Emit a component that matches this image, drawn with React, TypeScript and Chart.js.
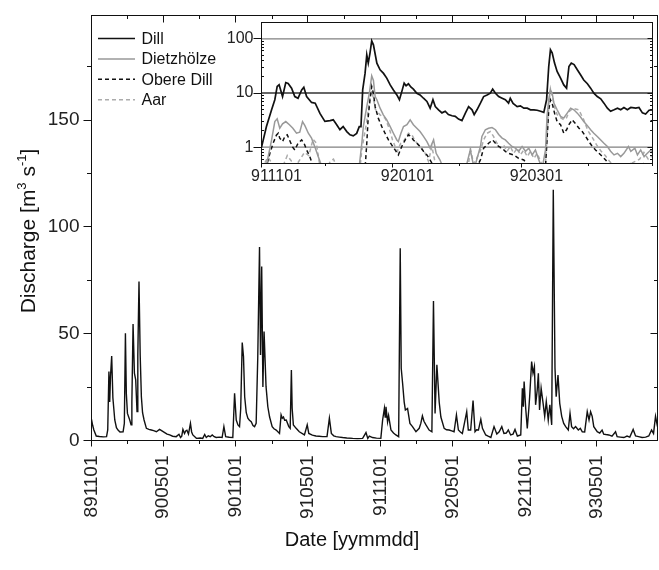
import React, { useEffect, useRef } from 'react';
import { Chart, registerables } from 'chart.js';

Chart.register(...registerables);

const FONT = '"Liberation Sans", Arimo, Arial, Helvetica, sans-serif';

// ---------- main panel: Dill discharge; x = days since 1989-11-01, y = m3/s
const mainDays = [
  0, 3, 6, 12, 20, 30, 38, 41, 44, 46,
  48, 51, 54, 58.8, 63, 67, 72, 79.8, 83, 85.7,
  88, 90.8, 96.6, 100, 102, 105, 108.4, 111.7, 115, 117,
  120, 123, 126, 129, 132.8, 138.7, 145, 151, 157, 164,
  172, 178, 185, 191, 197.5, 205, 214, 221, 225, 228,
  231, 235, 238, 241, 245, 247, 250, 253, 256, 265,
  275, 281, 286, 290, 295, 300, 305, 310, 315, 323,
  330, 334.5, 339, 348, 357, 361.5, 365.7, 370, 374, 377,
  380.8, 384, 387, 391, 395, 399, 403.5, 408, 412, 416,
  420, 424.5, 427, 430, 433, 436, 441, 445.5, 450, 456.5,
  461, 466.6, 475, 479, 482, 485, 488, 492, 498.5, 502,
  505, 507, 510, 517, 525, 538, 545, 549, 558, 567,
  575, 584, 595, 601, 606, 612, 618, 626, 634.5, 645,
  660, 672, 685, 693.5, 698, 702, 710, 720, 731, 735.5,
  740, 742, 744, 748, 750.6, 756.6, 763, 769, 776, 780,
  782.5, 786, 790, 793, 798.5, 804.5, 811, 819.7, 828, 832,
  836, 840, 845, 853, 860, 864, 868, 872.6, 878.5, 882.7,
  891, 897, 903.7, 910, 916, 922, 927, 932, 937, 943,
  948, 952, 958, 964, 969, 973, 977.6, 983.6, 987.7, 996,
  1002, 1009, 1017, 1024, 1030, 1036.6, 1042, 1048, 1053, 1059,
  1065, 1070, 1076, 1084.5, 1088.6, 1091, 1093, 1097, 1101, 1105,
  1107, 1112, 1115.5, 1119, 1122, 1126, 1129, 1132, 1136, 1141,
  1145, 1149, 1154, 1158, 1162.7, 1166.7, 1171, 1174, 1178.6, 1183,
  1188, 1193, 1198, 1204.6, 1209, 1213, 1218, 1223, 1230, 1235,
  1240, 1246, 1252.5, 1257, 1261, 1265, 1269, 1277.7, 1284, 1290,
  1294, 1300, 1307, 1315, 1324, 1328, 1336, 1345, 1353, 1360,
  1368.5, 1374.6, 1382, 1391, 1400, 1408, 1415, 1420, 1425, 1430,
];
const mainQ = [
  9.9, 7, 4.9, 2.1, 1.9, 1.7, 1.8, 5, 32.3, 18,
  30, 39.6, 20, 9.6, 6, 4.9, 4.0, 4.1, 8, 50.2,
  22, 12.7, 9.6, 7.3, 18, 54.5, 31.5, 28.4, 13.5, 40,
  74.5, 40, 20.5, 13, 9.6, 5.7, 5.2, 4.9, 4.6, 4.1,
  5.2, 4.5, 3.7, 3.0, 2.6, 2.0, 1.8, 2.9, 1.4, 2.0,
  5.2, 3.3, 4.5, 4.8, 3.0, 5, 8.0, 4, 2.6, 1.0,
  1.2, 1.0, 2.8, 1.4, 2.2, 1.8, 2.6, 1.8, 1.4, 1.6,
  1.4, 6.5, 1.8, 1.5, 1.4, 22.1, 9.6, 7.3, 6.5, 15,
  45.9, 39.3, 20.5, 13, 10.4, 9.5, 8.8, 7.0, 6.5, 8.0,
  38.5, 90.6, 40, 81.5, 25, 51, 25.2, 15.8, 11, 6.5,
  5.5, 4.9, 3.3, 12, 10.4, 11, 9.5, 9.6, 6.5, 5.7,
  33, 15, 7.3, 5.7, 4.1, 2.6, 7.3, 3.3, 2.5, 2.1,
  2.0, 1.8, 1.8, 10.4, 3.3, 2.2, 1.8, 1.6, 1.4, 1.2,
  1.0, 0.9, 1.0, 3.7, 1.0, 2.1, 1.4, 1.1, 1.0, 9.6,
  15.1, 11, 15.8, 8.8, 11.7, 4.9, 3.5, 2.6, 1.8, 90,
  33.8, 26.8, 18, 14.3, 15, 8.0, 6.5, 4.1, 5.7, 8,
  11.5, 9, 7.3, 4.9, 4.1, 65.3, 12.7, 35.4, 17.9, 11,
  5.7, 5, 4.9, 4.5, 4.1, 12, 4.9, 4, 3.3, 8.8,
  13.5, 4.9, 4.9, 18.7, 4.1, 5, 4.9, 9.9, 5.7, 2.6,
  2, 1.4, 6.5, 3.0, 4.1, 6.5, 3.3, 3.5, 4.9, 2.6,
  3, 5.2, 2.1, 2.6, 24.5, 15.8, 27.6, 15.1, 5.7, 15.1,
  20.5, 37, 31.5, 34.6, 16.7, 23.4, 31.5, 14.3, 24.5, 17.4,
  11.3, 18.2, 9.6, 16.7, 7.3, 117.4, 33.8, 20.5, 30.7, 17.4,
  11.3, 8, 6.5, 4.9, 12.7, 6.5, 5.5, 6.5, 4.9, 5.7,
  4.1, 4, 13.5, 9.6, 13.5, 11.3, 6.5, 4.1, 3.5, 4.9,
  3.0, 2.8, 2.6, 2.0, 4.1, 1.8, 1.6, 1.4, 2.1, 1.6,
  5.2, 2.1, 1.8, 1.4, 1.6, 2.1, 4.9, 3.3, 11.3, 6.5,
];
const mainTickDates = ['891101', '900201', '900501', '900801', '901101', '910201', '910501', '910801',
  '911101', '920201', '920501', '920801', '921101', '930201', '930501', '930801'];
const mainLabelDates = ['891101', '900501', '901101', '910501', '911101', '920501', '921101', '930501'];
const mainYTicks = [0, 50, 100, 150];
const mainYMinorTicks = [25, 75, 125, 175];

// ---------- inset (log scale); x = days since 1991-11-01, y = m3/s
const dillDays = [
  0, 2.3, 4.7, 6.2, 7.3, 8.2, 9.8, 11.3, 12.4, 14,
  15.5, 17, 18.7, 19.7, 21, 23.3, 25, 27.2, 29.5, 31.9,
  33.4, 35, 36.5, 38, 39.7, 41.2, 42.7, 44.3, 45.5, 46.3,
  47.1, 48.2, 49, 49.7, 50.5, 51.3, 52.1, 53.7, 55.2, 56.8,
  58.3, 59.9, 61.4, 63, 64.2, 65.3, 66.4, 67.3, 68.4, 69.5,
  70.7, 72.3, 73.8, 75.4, 77, 78.5, 79.8, 80.9, 82.4, 84,
  85.5, 87, 88.7, 90.2, 91.7, 93.3, 94.9, 96.4, 98, 99,
  100.3, 101.9, 103.4, 105, 106.5, 107.6, 108.9, 110.4, 112, 113.5,
  115, 115.8, 117.1, 119, 120.5, 122.1, 123.7, 125.2, 126.8, 128.3,
  129.9, 131.4, 132.7, 133.7, 134.5, 135.3, 136.4, 137.6, 139.2, 140.7,
  142, 143.1, 144.2, 145.5, 147, 148.5, 150, 151.7, 153.2, 154.7,
  156.3, 157.9, 159.4, 161, 162.5, 164.1, 165.7, 167.2, 168.7, 170.3,
  171.9, 174.2, 175.7, 177.3, 178.8, 180.4, 182,
];
const dillQ = [
  1.0, 2.4, 4.9, 7.5, 13.2, 14.2, 8.6, 15.6, 15, 12.3,
  8.6, 8.0, 11.4, 12.8, 8.6, 6.7, 6.5, 4.2, 3.0, 3.1,
  3.2, 2.6, 2.1, 2.4, 1.94, 1.69, 1.62, 1.8, 2.4, 2.4,
  11.4, 23, 50.7, 35.6, 54.5, 91.8, 77.5, 35.6, 26.8, 23,
  18.8, 14.1, 11.4, 9.2, 7.5, 10.6, 15.2, 13.6, 14.8, 12.9,
  11.8, 9.9, 9.2, 8.0, 7.0, 5.25, 7.5, 5.6, 4.9, 4.3,
  4.6, 4.0, 3.8, 3.7, 3.3, 3.1, 4.25, 5.6, 4.9, 4.0,
  4.9, 6.5, 8.6, 9.2, 9.9, 11.8, 9.9, 8.6, 8.0, 7.5,
  6.5, 8.0, 6.4, 5.6, 5.8, 5.25, 5.25, 4.9, 4.9, 4.8,
  4.6, 4.4, 7.5, 30.8, 62.6, 55, 35.6, 25, 18.8, 14.1,
  12.3, 30.8, 35.6, 33.5, 26.8, 21.7, 17.4, 14.8, 12.3, 9.9,
  8.6, 7.8, 6.5, 5.25, 4.6, 4.9, 5.25, 4.9, 5.4, 4.9,
  5.4, 5.25, 5.4, 4.3, 4.1, 4.8, 4.9,
];
const dietzDays = [
  0, 2, 2.8, 4.7, 6.2, 7.3, 8.5, 9.8, 11.3, 13,
  14.6, 16.3, 17.8, 19.1, 20.2, 21.8, 23.3, 24.9, 26.4, 28,
  30, 45, 46.7, 47.4, 49, 50.2, 51.3, 52.1, 52.9, 53.7,
  55.2, 56.7, 58.3, 59.9, 61.4, 63, 63.7, 64.9, 66.1, 67.7,
  69.2, 70.7, 72.3, 73.8, 75.4, 77, 78.5, 80.1, 81.3, 83.1,
  84.7, 95, 97.2, 99, 101.9, 102.6, 104.2, 105.7, 107.3, 108.9,
  110.4, 112, 113.5, 115, 116.6, 118.2, 119.7, 121.3, 122.9, 124.4,
  126, 127.5, 129.1, 130.6, 132.2, 132.9, 133.7, 134.5, 135.3, 136.1,
  137.6, 139.2, 140.7, 142.3, 143.9, 145.4, 147, 148.5, 150, 151.7,
  153.2, 154.7, 156.3, 157.9, 159.4, 161, 162.5, 164.1, 165.7, 167.2,
  168.7, 170.8, 171.9, 173.8, 175, 176.5, 178.1, 179.6, 181.2, 182,
];
const dietzQ = [
  0.3, 0.4, 0.58, 1.36, 2.97, 3.33, 2.24, 2.7, 2.97, 2.6,
  2.24, 1.81, 1.9, 2.97, 2.5, 1.81, 1.47, 1.0, 0.67, 0.45,
  0.3, 0.3, 1.18, 2.4, 5.6, 9.9, 20.7, 17, 8.6, 7.5,
  5.25, 3.95, 3.2, 2.4, 1.81, 1.36, 1.27, 1.81, 2.4, 2.6,
  3.2, 2.6, 2.24, 1.94, 1.58, 1.27, 0.96, 1.36, 0.77, 0.58,
  0.4, 0.4, 0.89, 0.4, 1.03, 1.58, 2.1, 2.24, 2.3, 2.1,
  1.72, 1.47, 1.36, 1.18, 1.03, 0.96, 0.84, 1.03, 0.84, 0.96,
  0.72, 0.89, 0.58, 0.4, 0.89, 3.7, 7.5, 11.4, 9.9, 6.5,
  4.9, 3.7, 3.45, 4.25, 5.25, 4.9, 4.25, 3.6, 2.97, 2.5,
  2.1, 1.81, 1.58, 1.36, 1.18, 1.03, 0.84, 0.72, 0.77, 0.67,
  0.77, 1.03, 0.84, 0.96, 0.72, 0.89, 0.67, 0.77, 0.89, 0.77,
];
const obereDays = [
  0, 2, 3.9, 5.4, 7, 7.8, 8.5, 9.8, 10.9, 12,
  13, 14.5, 15.5, 17, 18.7, 19.8, 21, 22.5, 24, 26,
  48, 49, 49.7, 50.5, 51.3, 52.1, 52.9, 54.4, 56, 57.5,
  59.1, 60.6, 62.2, 63.7, 65.3, 66.9, 68.4, 69.5, 70.7, 72.3,
  73.8, 75.4, 77, 78.5, 80, 82, 96, 98, 100, 102,
  103.4, 105.7, 107.6, 108.9, 110.4, 112, 113.5, 115, 117.4, 119.7,
  122.1, 123.7, 126, 131, 132.2, 132.9, 133.7, 134.5, 135.3, 136.4,
  137.6, 139.2, 140.7, 142, 143.1, 144.6, 146.2, 147.8, 149.3, 150.9,
  152.4, 154, 155.5, 157.1, 158.7, 160.2, 161.8, 165, 172, 175,
  178, 182,
];
const obereQ = [
  0.3, 0.4, 0.77, 1.18, 1.69, 1.81, 1.47, 1.27, 1.58, 1.69,
  1.36, 1.0, 0.89, 1.18, 1.36, 1.18, 0.89, 0.67, 0.45, 0.3,
  0.3, 1.18, 3.7, 7.5, 13.2, 9.9, 5.6, 3.4, 2.4, 1.81,
  1.36, 1.1, 0.89, 0.72, 1.03, 1.36, 1.69, 1.58, 1.36, 1.18,
  1.03, 0.84, 0.72, 0.58, 0.45, 0.3, 0.3, 0.45, 0.4, 0.6,
  0.96, 1.18, 1.36, 1.18, 1.03, 0.96, 0.84, 0.77, 0.72, 0.62,
  0.58, 0.48, 0.35, 0.35, 0.45, 1.36, 4.9, 7.5, 6.5, 4.25,
  2.97, 2.6, 1.81, 2.1, 2.6, 3.2, 2.7, 2.24, 1.94, 1.58,
  1.27, 1.03, 0.89, 0.77, 0.67, 0.58, 0.48, 0.4, 0.5, 0.45,
  0.5, 0.45,
];
const aarDays = [
  0, 3, 5, 7, 10, 12, 14, 16, 18, 20,
  22, 24, 25.5, 27, 29, 32, 33.5, 35, 37, 45.5,
  46.7, 49, 50.5, 51.3, 52.1, 53, 55.2, 57.5, 59.5, 61,
  62.2, 63.2, 64.8, 66.5, 68.4, 70, 71.5, 73.8, 76.2, 77.7,
  79.3, 80.5, 82, 96, 97.2, 98.7, 100, 102, 103.4, 105,
  106.5, 108, 109.6, 111.2, 112.7, 114.3, 115.8, 117.4, 119, 120.5,
  122.1, 123.7, 125.2, 126.8, 128.3, 129.9, 131.4, 132.2, 133.7, 134.5,
  135.3, 136.4, 137.6, 139.2, 140.7, 142, 143.1, 145, 147.7, 150,
  152, 154, 156, 158, 160, 162, 164, 168, 172, 176,
  178, 180, 182,
];
const aarQ = [
  0.4, 0.65, 0.5, 0.4, 0.45, 0.7, 0.55, 0.45, 0.6, 0.8,
  0.7, 1.4, 1.2, 0.5, 0.3, 0.55, 0.6, 0.45, 0.3, 0.3,
  0.9, 3, 8.5, 11, 8, 5, 3.95, 3.45, 2.2, 1.36,
  1.03, 0.84, 1.18, 1.36, 1.81, 1.7, 1.3, 1.03, 0.77, 0.55,
  1.03, 0.6, 0.35, 0.35, 0.96, 0.5, 0.6, 0.89, 1.36, 1.81,
  1.94, 1.58, 1.18, 0.96, 1.1, 0.84, 1.03, 0.77, 0.96, 0.72,
  0.89, 0.67, 0.84, 0.62, 0.77, 0.55, 0.4, 0.5, 6, 12,
  9, 5.5, 4, 3.5, 3.2, 3.5, 4.5, 5.2, 4.9, 3.2,
  2.0, 1.5, 1.1, 0.85, 0.7, 0.55, 0.45, 0.4, 0.5, 0.6,
  0.8, 0.6, 0.7,
];
const insetTickDates = ['911101', '911201', '920101', '920201', '920301', '920401', '920501'];
const insetLabelDates = ['911101', '920101', '920301'];
const insetYTicks = [1, 10, 100];
const insetYMinorTicks = [0.6, 0.7, 0.8, 0.9, 2, 3, 4, 5, 6, 7, 8, 9, 20, 30, 40, 50, 60, 70, 80, 90, 200];

const legendLabels = ['Dill', 'Dietzhölze', 'Obere Dill', 'Aar'];
const seriesColors = ['#111111', '#999999', '#111111', '#ababab'];
const seriesDash: number[][] = [[], [], [4, 3], [4, 3]];

const MAIN_BASE = Date.UTC(1989, 10, 1);
const INSET_BASE = Date.UTC(1991, 10, 1);
function dayOf(s: string, base: number) {
  const y = 1900 + Number(s.slice(0, 2));
  const m = Number(s.slice(2, 4)) - 1;
  const d = Number(s.slice(4, 6));
  return (Date.UTC(y, m, d) - base) / 86400000;
}
const toPts = (xs: number[], ys: number[]) => xs.map((x, i) => ({ x, y: ys[i] }));
const crisp = (v: number) => Math.round(v - 0.5) + 0.5;
function seg(ctx: CanvasRenderingContext2D, x1: number, y1: number, x2: number, y2: number) {
  ctx.beginPath();
  ctx.moveTo(x1, y1);
  ctx.lineTo(x2, y2);
  ctx.stroke();
}

const mainDecor = {
  id: 'mainDecor',
  afterDraw(chart: any) {
    const ctx: CanvasRenderingContext2D = chart.ctx;
    const a = chart.chartArea;
    const xs = chart.scales.x;
    const ys = chart.scales.y;
    ctx.save();
    ctx.strokeStyle = '#111';
    ctx.lineWidth = 1;
    ctx.strokeRect(a.left, a.top, a.right - a.left, a.bottom - a.top);
    for (const t of mainTickDates) {
      const px = crisp(xs.getPixelForValue(dayOf(t, MAIN_BASE)));
      const major = mainLabelDates.includes(t);
      seg(ctx, px, a.bottom, px, a.bottom + (major ? 6 : 3.5));
      seg(ctx, px, a.top, px, a.top + (major ? 7 : 3.5));
    }
    for (const v of mainYTicks) {
      const py = crisp(ys.getPixelForValue(v));
      seg(ctx, a.left - 8, py, a.left, py);
      seg(ctx, a.right, py, a.right - 7, py);
    }
    for (const v of mainYMinorTicks) {
      const py = crisp(ys.getPixelForValue(v));
      seg(ctx, a.left - 4.5, py, a.left, py);
      seg(ctx, a.right, py, a.right - 3.5, py);
    }
    // legend for the inset series
    legendLabels.forEach((lab, i) => {
      const y = 38.5 + i * 20.4;
      ctx.strokeStyle = seriesColors[i];
      ctx.lineWidth = 1.5;
      ctx.setLineDash(seriesDash[i]);
      seg(ctx, 98, y, 135, y);
      ctx.setLineDash([]);
      ctx.fillStyle = '#111';
      ctx.font = `16px ${FONT}`;
      ctx.textAlign = 'left';
      ctx.textBaseline = 'middle';
      ctx.fillText(lab, 141.5, y + 1);
    });
    // x title
    ctx.fillStyle = '#111';
    ctx.font = `20px ${FONT}`;
    ctx.textAlign = 'center';
    ctx.textBaseline = 'alphabetic';
    ctx.fillText('Date [yymmdd]', 352, 546);
    // y title with superscripts
    ctx.save();
    ctx.translate(35, 231);
    ctx.rotate(-Math.PI / 2);
    const parts: [string, number, number][] = [
      ['Discharge [m', 21, 0], ['3', 13, -9], [' s', 21, 0], ['-1', 13, -9], [']', 21, 0],
    ];
    let total = 0;
    for (const [t, s] of parts) {
      ctx.font = `${s}px ${FONT}`;
      total += ctx.measureText(t).width;
    }
    let x = -total / 2;
    ctx.textAlign = 'left';
    for (const [t, s, dy] of parts) {
      ctx.font = `${s}px ${FONT}`;
      ctx.fillText(t, x, dy);
      x += ctx.measureText(t).width;
    }
    ctx.restore();
    ctx.restore();
  },
};

const insetDecor = {
  id: 'insetDecor',
  beforeDatasetsDraw(chart: any) {
    const ctx: CanvasRenderingContext2D = chart.ctx;
    const a = chart.chartArea;
    const ys = chart.scales.y;
    ctx.save();
    ctx.lineWidth = 1.3;
    for (const v of insetYTicks) {
      const py = ys.getPixelForValue(v);
      ctx.strokeStyle = v === 10 ? '#333' : '#808080';
      seg(ctx, a.left, py, a.right, py);
    }
    ctx.restore();
  },
  afterDraw(chart: any) {
    const ctx: CanvasRenderingContext2D = chart.ctx;
    const a = chart.chartArea;
    const xs = chart.scales.x;
    const ys = chart.scales.y;
    ctx.save();
    ctx.strokeStyle = '#111';
    ctx.lineWidth = 1;
    ctx.strokeRect(a.left, a.top, a.right - a.left, a.bottom - a.top);
    for (const t of insetTickDates) {
      const px = crisp(xs.getPixelForValue(dayOf(t, INSET_BASE)));
      const major = insetLabelDates.includes(t);
      seg(ctx, px, a.bottom, px, a.bottom + (major ? 4 : 2.5));
    }
    for (const v of insetYTicks) {
      const py = crisp(ys.getPixelForValue(v));
      seg(ctx, a.left - 8, py, a.left, py);
      seg(ctx, a.right, py, a.right - 5, py);
    }
    for (const v of insetYMinorTicks) {
      const py = crisp(ys.getPixelForValue(v));
      seg(ctx, a.left, py, a.left + 2.5, py);
      seg(ctx, a.right, py, a.right - 2.5, py);
    }
    ctx.restore();
  },
};

export default function App() {
  const mainRef = useRef<HTMLCanvasElement>(null);
  const insetRef = useRef<HTMLCanvasElement>(null);

  useEffect(() => {
    Chart.defaults.font.family = FONT;
    const main = new Chart(mainRef.current as HTMLCanvasElement, {
      type: 'line',
      data: {
        datasets: [{
          data: toPts(mainDays, mainQ),
          borderColor: '#111',
          borderWidth: 1.4,
          pointRadius: 0,
          tension: 0,
        }],
      },
      options: {
        animation: false,
        responsive: false,
        devicePixelRatio: 1,
        events: [],
        layout: { padding: { top: 15.5, right: 1.5, left: 0, bottom: 0 } },
        plugins: { legend: { display: false }, tooltip: { enabled: false } },
        scales: {
          x: {
            type: 'linear',
            min: 0,
            max: dayOf('931001', MAIN_BASE),
            afterBuildTicks: (s: any) => { s.ticks = mainTickDates.map((t) => ({ value: dayOf(t, MAIN_BASE) })); },
            afterFit: (s: any) => { s.height = 129.5; s.paddingLeft = 0; s.paddingRight = 0; },
            grid: { display: false, drawTicks: false },
            border: { display: false },
            ticks: {
              autoSkip: false,
              minRotation: 90,
              maxRotation: 90,
              padding: 15,
              color: '#222',
              font: { size: 19, family: FONT },
              callback: (_v: any, i: number) => (mainLabelDates.includes(mainTickDates[i]) ? mainTickDates[i] : ''),
            },
          },
          y: {
            type: 'linear',
            min: 0,
            max: 199,
            afterBuildTicks: (s: any) => { s.ticks = mainYTicks.map((v) => ({ value: v })); },
            afterFit: (s: any) => { s.width = 91.5; s.paddingTop = 0; s.paddingBottom = 0; },
            grid: { display: false, drawTicks: false },
            border: { display: false },
            ticks: { padding: 12, color: '#222', font: { size: 19, family: FONT }, callback: (v: any) => String(v) },
          },
        },
      },
      plugins: [mainDecor],
    } as any);

    const insetSeries = [
      toPts(dillDays, dillQ),
      toPts(dietzDays, dietzQ),
      toPts(obereDays, obereQ),
      toPts(aarDays, aarQ),
    ];
    const inset = new Chart(insetRef.current as HTMLCanvasElement, {
      type: 'line',
      data: {
        datasets: insetSeries.map((d, i) => ({
          label: legendLabels[i],
          data: d,
          borderColor: seriesColors[i],
          borderDash: seriesDash[i],
          borderWidth: i === 0 ? 1.7 : 1.5,
          pointRadius: 0,
          tension: 0,
        })),
      },
      options: {
        animation: false,
        responsive: false,
        devicePixelRatio: 1,
        events: [],
        layout: { padding: { top: 7.5, right: 6.5, left: 0, bottom: 0 } },
        plugins: { legend: { display: false }, tooltip: { enabled: false } },
        scales: {
          x: {
            type: 'linear',
            min: 0,
            max: dayOf('920501', INSET_BASE),
            afterBuildTicks: (s: any) => { s.ticks = insetTickDates.map((t) => ({ value: dayOf(t, INSET_BASE) })); },
            afterFit: (s: any) => { s.height = 26.5; s.paddingLeft = 0; s.paddingRight = 0; },
            grid: { display: false, drawTicks: false },
            border: { display: false },
            ticks: {
              autoSkip: false,
              maxRotation: 0,
              minRotation: 0,
              padding: 3,
              labelOffset: 15,
              color: '#222',
              font: { size: 16, family: FONT },
              callback: (_v: any, i: number) => (insetLabelDates.includes(insetTickDates[i]) ? insetTickDates[i] : ''),
            },
          },
          y: {
            type: 'logarithmic',
            min: 0.5,
            max: 200,
            afterBuildTicks: (s: any) => { s.ticks = insetYTicks.map((v) => ({ value: v })); },
            afterFit: (s: any) => { s.width = 46.5; s.paddingTop = 0; s.paddingBottom = 0; },
            grid: { display: false, drawTicks: false },
            border: { display: false },
            ticks: { padding: 8, color: '#222', font: { size: 16, family: FONT }, callback: (v: any) => String(v) },
          },
        },
      },
      plugins: [insetDecor],
    } as any);

    return () => {
      main.destroy();
      inset.destroy();
    };
  }, []);

  return (
    <div style={{ position: 'fixed', left: 0, top: 0, width: 659, height: 570, background: '#fff' }}>
      <canvas ref={mainRef} width={659} height={570} style={{ position: 'absolute', left: 0, top: 0, width: 659, height: 570 }} />
      <canvas ref={insetRef} width={444} height={175} style={{ position: 'absolute', left: 215, top: 15, width: 444, height: 175 }} />
    </div>
  );
}
